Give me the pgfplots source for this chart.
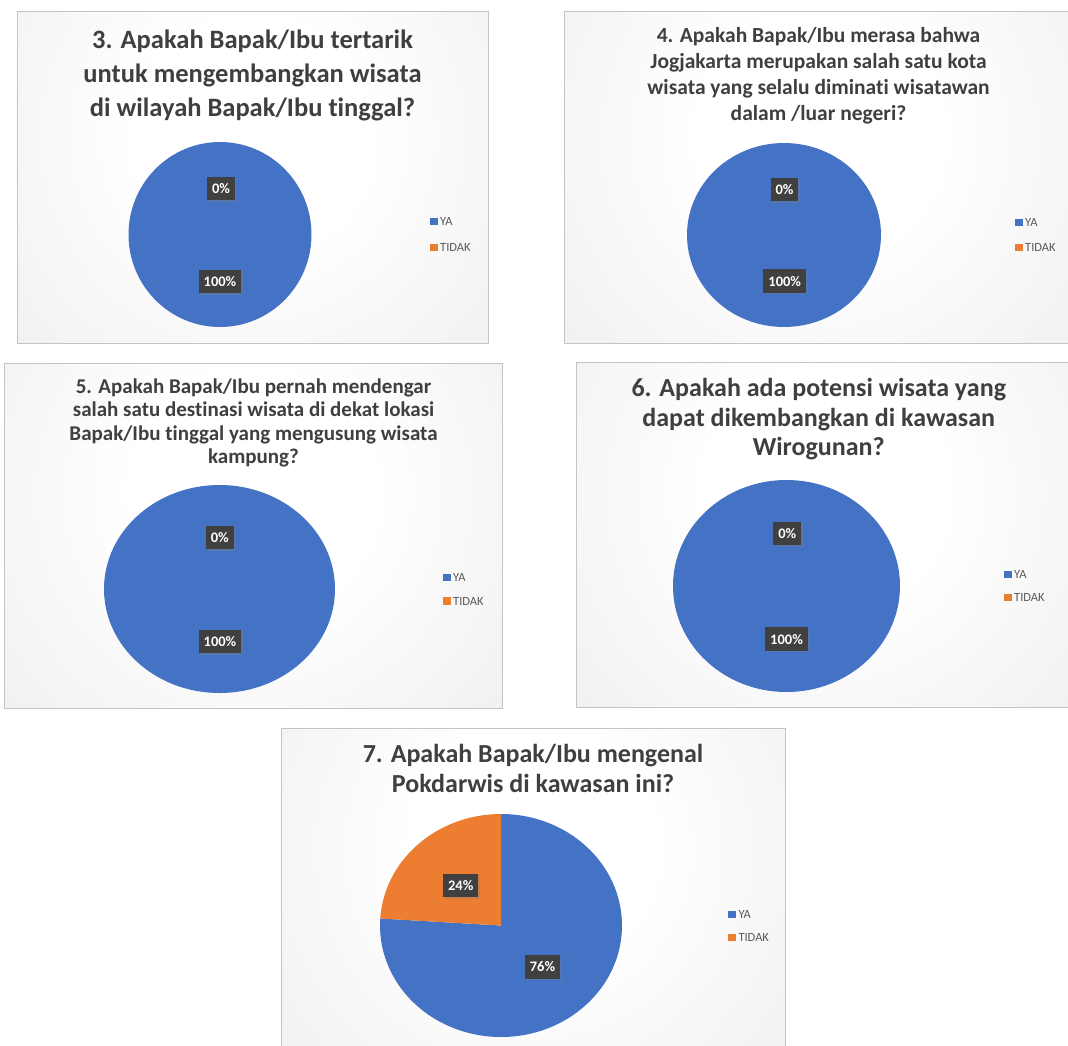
\documentclass[border=0pt]{standalone}
\usepackage{pgfplots}
\pgfplotsset{compat=1.18}
\usepackage{fontspec}
\setmainfont{Carlito}[Ligatures={NoCommon}]
\usetikzlibrary{shadows}
\definecolor{pieblue}{HTML}{4472C4}
\definecolor{pieorange}{HTML}{ED7D31}
\definecolor{lblbg}{HTML}{404040}
\definecolor{titlecol}{HTML}{3F3F3F}
\definecolor{legcol}{HTML}{595959}
\definecolor{bordercol}{HTML}{C4C4C4}
\definecolor{bgedge}{HTML}{D8D8D8}
\pgfdeclareradialshading{panelbg}{\pgfpoint{0bp}{0bp}}{color(0bp)=(white); color(9bp)=(white); color(50bp)=(bgedge)}
% panel: x1 y1 x2 y2 gcx gcy R
\newcommand{\panel}[7]{%
  \fill[bgedge] (axis cs:#1,#2) rectangle (axis cs:#3,#4);
  \begin{scope}
    \clip (axis cs:#1,#2) rectangle (axis cs:#3,#4);
    \shade[shading=panelbg] (axis cs:#5,#6) circle (#7pt);
  \end{scope}
  \draw[bordercol, line width=1pt] (axis cs:#1,#2) rectangle (axis cs:#3,#4);
}
% slice: cx cy rx ry start end colour
\newcommand{\pieslice}[7]{%
  \fill[#7] (axis cs:#1,#2) -- ++({#5}:#3pt and #4pt) arc[start angle={#5}, end angle={#6}, x radius=#3pt, y radius=#4pt] -- cycle;
}
\newcommand{\fullpie}[5]{%
  \fill[#5] (axis cs:#1,#2) ellipse[x radius=#3pt, y radius=#4pt];
}
% legend: x yYA yTIDAK
\newcommand{\pielegend}[3]{%
  \fill[pieblue] ([yshift=-3.75pt]axis cs:#1,#2) rectangle ++(7.5pt,7.5pt);
  \fill[pieorange] ([yshift=-3.75pt]axis cs:#1,#3) rectangle ++(7.5pt,7.5pt);
  \node[anchor=west, inner sep=0pt, text=legcol, font=\fontsize{12.5}{14}\selectfont] at ([xshift=10pt]axis cs:#1,#2) {YA};
  \node[anchor=west, inner sep=0pt, text=legcol, font=\fontsize{12.5}{14}\selectfont] at ([xshift=10pt]axis cs:#1,#3) {TIDAK};
}
\tikzset{
  lbl/.style={fill=lblbg, text=white, font=\fontsize{14.5}{16}\selectfont\bfseries, inner xsep=5pt, inner ysep=0pt, minimum height=23.5pt, drop shadow={shadow xshift=1.5pt, shadow yshift=-1.5pt, opacity=0.35}},
  ttl/.style={anchor=base, text=titlecol, inner sep=0pt}
}
\newcommand{\tA}{\fontsize{26.5}{32}\selectfont\bfseries}
\newcommand{\tB}{\fontsize{21.5}{26}\selectfont\bfseries}
\newcommand{\tC}{\fontsize{21}{25}\selectfont\bfseries}
\newcommand{\tD}{\fontsize{26}{31}\selectfont\bfseries}
\begin{document}
\begin{tikzpicture}
\begin{axis}[at={(0pt,0pt)}, anchor=south west, width=1068pt, height=1045pt, scale only axis,
  xmin=0, xmax=1068, ymin=0, ymax=1045, y dir=reverse, hide axis, clip=false]
\addplot[draw=none] coordinates {(0,0) (1068,1045)};
% ---------- Panel 3 ----------
\panel{17}{11}{488}{343}{252.5}{137}{330}
\node[ttl, font=\tA] at (axis cs:252.5,48) {3. Apakah Bapak/Ibu tertarik};
\node[ttl, font=\tA] at (axis cs:252.5,82) {untuk mengembangkan wisata};
\node[ttl, font=\tA] at (axis cs:252.5,116) {di wilayah Bapak/Ibu tinggal?};
% YA = 100, TIDAK = 0
\fullpie{220}{234.5}{91.5}{92.5}{pieblue}
\node[lbl] at (axis cs:221,188.5) {0\%};
\node[lbl] at (axis cs:220,281.3) {100\%};
\pielegend{430}{221.7}{247.7}
% ---------- Panel 4 ----------
\panel{564}{11}{1080}{343}{819.5}{137}{340}
\node[ttl, font=\tB] at (axis cs:818.5,42.5) {4. Apakah Bapak/Ibu merasa bahwa};
\node[ttl, font=\tB] at (axis cs:818.5,68.5) {Jogjakarta merupakan salah satu kota};
\node[ttl, font=\tB] at (axis cs:818.5,94.5) {wisata yang selalu diminati wisatawan};
\node[ttl, font=\tB] at (axis cs:818.5,120.5) {dalam /luar negeri?};
\fullpie{784}{235}{97}{92}{pieblue}
\node[lbl] at (axis cs:784.5,189.3) {0\%};
\node[lbl] at (axis cs:784.7,281.2) {100\%};
\pielegend{1015}{222.7}{247.7}
% ---------- Panel 5 ----------
\panel{4}{363}{502}{708}{253}{494}{340}
\node[ttl, font=\tC] at (axis cs:253.5,393) {5. Apakah Bapak/Ibu pernah mendengar};
\node[ttl, font=\tC] at (axis cs:253.5,416.5) {salah satu destinasi wisata di dekat lokasi};
\node[ttl, font=\tC] at (axis cs:253.5,440) {Bapak/Ibu tinggal yang mengusung wisata};
\node[ttl, font=\tC] at (axis cs:253.5,463.5) {kampung?};
\fullpie{219.5}{589}{115.5}{104}{pieblue}
\node[lbl] at (axis cs:219.8,537.5) {0\%};
\node[lbl] at (axis cs:220,641.3) {100\%};
\pielegend{443}{577.3}{601}
% ---------- Panel 6 ----------
\panel{576}{362}{1080}{707}{825}{493}{340}
\node[ttl, font=\tD] at (axis cs:818.7,396.5) {6. Apakah ada potensi wisata yang};
\node[ttl, font=\tD] at (axis cs:818.7,426) {dapat dikembangkan di kawasan};
\node[ttl, font=\tD] at (axis cs:818.7,455.5) {Wirogunan?};
\fullpie{786.5}{586}{113.5}{106}{pieblue}
\node[lbl] at (axis cs:787.2,533.3) {0\%};
\node[lbl] at (axis cs:786.5,639.2) {100\%};
\pielegend{1004}{574.3}{597.3}
% ---------- Panel 7 ----------
\panel{281}{728}{785}{1060}{533}{850}{340}
\node[ttl, font=\tD] at (axis cs:533,762) {7. Apakah Bapak/Ibu mengenal};
\node[ttl, font=\tD] at (axis cs:533,792) {Pokdarwis di kawasan ini?};
% YA = 76, TIDAK = 24
\pieslice{501}{925.5}{121}{111.5}{90}{90-3.6*76}{pieblue}
\pieslice{501}{925.5}{121}{111.5}{90-3.6*76}{-270}{pieorange}
\node[lbl] at (axis cs:460.7,885.3) {24\%};
\node[lbl] at (axis cs:542.5,966.8) {76\%};
\pielegend{728.3}{914.3}{937.3}
\end{axis}
\pgfresetboundingbox
\useasboundingbox (0pt,0pt) rectangle (1068pt,1045pt);
\end{tikzpicture}
\end{document}
